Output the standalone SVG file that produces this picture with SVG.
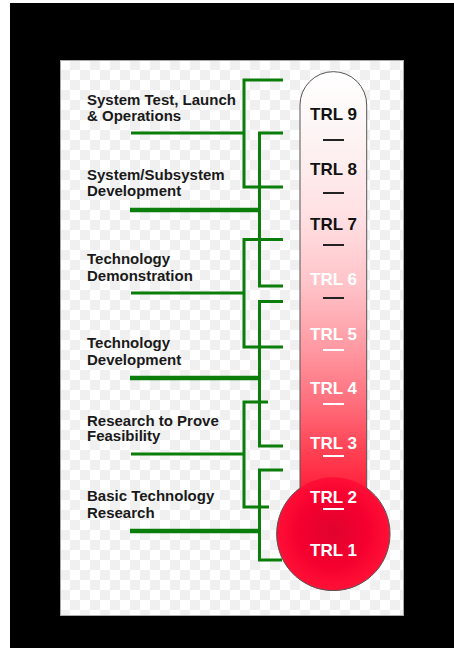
<svg xmlns="http://www.w3.org/2000/svg" width="454" height="648" viewBox="0 0 454 648">
<defs>
<pattern id="checks" x="60" y="60" width="20" height="20" patternUnits="userSpaceOnUse">
<rect width="20" height="20" fill="#ffffff"/>
<rect x="10" y="0" width="10" height="10" fill="#f0f0f0"/>
<rect x="0" y="10" width="10" height="10" fill="#f0f0f0"/>
</pattern>
<linearGradient id="tubeGrad" gradientUnits="userSpaceOnUse" x1="0" y1="72" x2="0" y2="495">
<stop offset="0" stop-color="#ffffff"/>
<stop offset="0.15" stop-color="#fdf4f4"/>
<stop offset="0.35" stop-color="#ffdfe2"/>
<stop offset="0.5" stop-color="#ffc4c9"/>
<stop offset="0.65" stop-color="#ff9aa3"/>
<stop offset="0.78" stop-color="#ff6f7d"/>
<stop offset="0.9" stop-color="#ff4052"/>
<stop offset="1" stop-color="#ff1a38"/>
</linearGradient>
<radialGradient id="bulbGrad" cx="333" cy="532" r="57" gradientUnits="userSpaceOnUse">
<stop offset="0" stop-color="#e0032e"/>
<stop offset="0.6" stop-color="#f5002f"/>
<stop offset="1" stop-color="#ff1036"/>
</radialGradient>
<style>
.lbl{font-family:"Liberation Sans",Arial,sans-serif;font-weight:bold;font-size:15px;fill:#1a1a1a}
.trl{font-family:"Liberation Sans",Arial,sans-serif;font-weight:bold;font-size:17px;text-anchor:middle}
.dk{fill:#111111}
.wt{fill:#ffffff}
.ln{fill:none;stroke:#0b7d0b;stroke-width:3}
.thick{stroke-width:4.5}
.dashd{stroke:#222222;stroke-width:2}
.dashw{stroke:#ffffff;stroke-width:2}
.edge{fill:none;stroke:#555555;stroke-width:1}
</style>
</defs>
<rect x="0" y="0" width="454" height="648" fill="#ffffff"/>
<rect x="10" y="3" width="444" height="645" fill="#000000"/>
<rect x="60.5" y="60.5" width="343" height="555" fill="url(#checks)" stroke="#aaaaaa" stroke-width="1"/>

<g id="connectors">
<path class="ln" d="M283,80 H244 V187 H283 M131,133 H244"/>
<path class="ln" d="M283,133 H259.5 V286 H283"/>
<path class="ln thick" d="M130,210 H259.5"/>
<path class="ln" d="M283,239.5 H244 V347 H283 M131,293 H244"/>
<path class="ln" d="M283,301.5 H259.5 V446 H283"/>
<path class="ln thick" d="M130,378 H259.5"/>
<path class="ln" d="M268,402 H244 V507 H269 M131,454 H244"/>
<path class="ln" d="M283,470 H259.5 V560 H282"/>
<path class="ln thick" d="M130,531 H259.5"/>
</g>

<g id="thermometer">
<path d="M300,105 A33.3,33.3 0 0 1 366.7,105 V500 H300 Z" fill="url(#tubeGrad)"/>
<circle cx="333.3" cy="534" r="56.7" fill="url(#bulbGrad)"/>
<path class="edge" d="M300,488 V105 A33.3,33.3 0 0 1 366.7,105 V488"/>
<path class="edge" d="M300,488 A56.7,56.7 0 1 0 366.7,488"/>
</g>

<g id="trl9"><text class="trl dk" x="333.5" y="120">TRL 9</text><line class="dashd" x1="323" y1="140" x2="344" y2="140"/></g>
<g id="trl8"><text class="trl dk" x="333.5" y="175">TRL 8</text><line class="dashd" x1="323" y1="193" x2="344" y2="193"/></g>
<g id="trl7"><text class="trl dk" x="333.5" y="230">TRL 7</text><line class="dashd" x1="323" y1="245" x2="344" y2="245"/></g>
<g id="trl6"><text class="trl wt" x="333.5" y="285">TRL 6</text><line class="dashd" x1="323" y1="298" x2="344" y2="298"/></g>
<g id="trl5"><text class="trl wt" x="333.5" y="340">TRL 5</text><line class="dashw" x1="323" y1="350" x2="344" y2="350"/></g>
<g id="trl4"><text class="trl wt" x="333.5" y="394">TRL 4</text><line class="dashw" x1="323" y1="404" x2="344" y2="404"/></g>
<g id="trl3"><text class="trl wt" x="333.5" y="449">TRL 3</text><line class="dashw" x1="323" y1="456" x2="344" y2="456"/></g>
<g id="trl2"><text class="trl wt" x="333.5" y="503">TRL 2</text><line class="dashw" x1="323" y1="509" x2="344" y2="509"/></g>
<g id="trl1"><text class="trl wt" x="333.5" y="556">TRL 1</text></g>

<g id="label-system-test"><text class="lbl" x="87" y="104.5">System Test, Launch</text><text class="lbl" x="87" y="120.5">&amp; Operations</text></g>
<g id="label-system-dev"><text class="lbl" x="87" y="180">System/Subsystem</text><text class="lbl" x="87" y="196">Development</text></g>
<g id="label-tech-demo"><text class="lbl" x="87" y="264">Technology</text><text class="lbl" x="87" y="280.5">Demonstration</text></g>
<g id="label-tech-dev"><text class="lbl" x="87" y="348">Technology</text><text class="lbl" x="87" y="364.5">Development</text></g>
<g id="label-research"><text class="lbl" x="87" y="425.5">Research to Prove</text><text class="lbl" x="87" y="441">Feasibility</text></g>
<g id="label-basic"><text class="lbl" x="87" y="501">Basic Technology</text><text class="lbl" x="87" y="517.5">Research</text></g>
</svg>
